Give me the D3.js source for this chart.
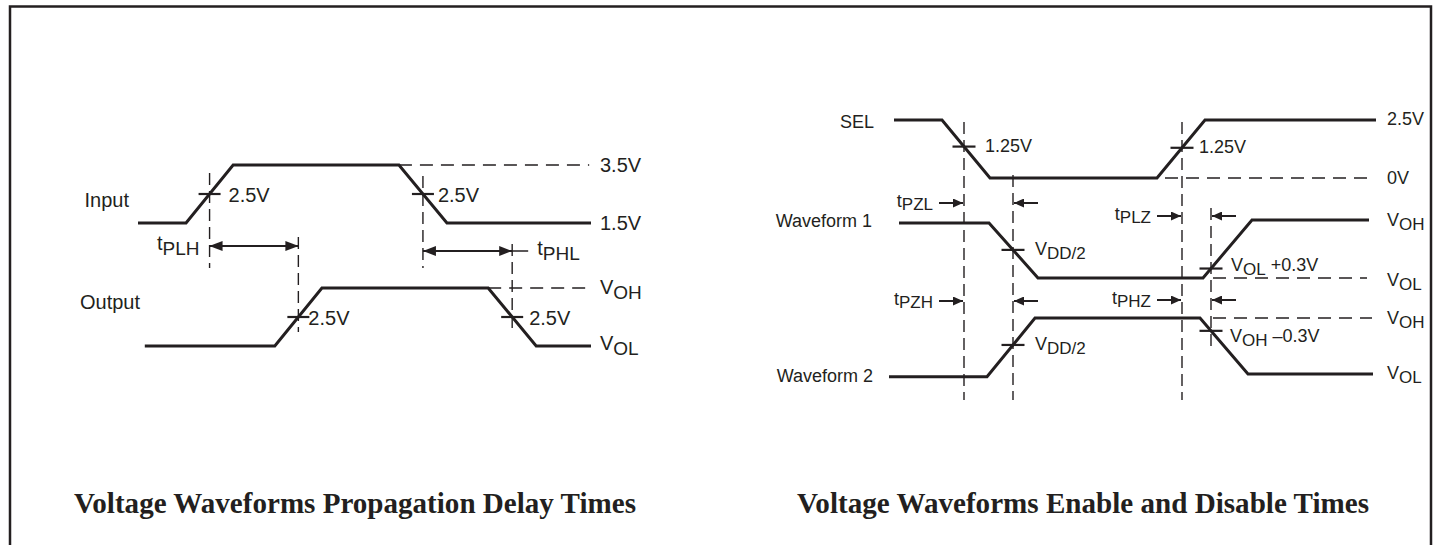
<!DOCTYPE html>
<html>
<head>
<meta charset="utf-8">
<script src="https://cdn.jsdelivr.net/npm/d3@7"></script>
<style>
  body { margin: 0; background: #fff; }
  svg text { font-family: "Liberation Sans", Arial, Helvetica, sans-serif; fill: #231f20; white-space: pre; }
  svg text.title { font-family: "Liberation Serif", "Times New Roman", serif; font-weight: bold; }
</style>
</head>
<body>
<div id="diagram"></div>
<script>
// waveform data as [time, level]; time is in arbitrary units (0..100) per panel
const inputWave  = [[0, 1.5], [10.6, 1.5], [21, 3.5], [57.6, 3.5], [68.2, 1.5], [100, 1.5]];
const outputWave = [[1.5, 0], [30.2, 0], [40.6, 1], [77.3, 1], [87.9, 0], [100, 0]];
const selWave    = [[2.8, 2.5], [12.4, 2.5], [22, 0], [55.4, 0], [65, 2.5], [99.2, 2.5]];
const wave1      = [[3.8, 0.95], [21.8, 0.95], [31.6, 0], [64.6, 0], [74.4, 1], [97.8, 1]];
const wave2      = [[1.8, -0.05], [21.4, -0.05], [31, 1], [64, 1], [73.6, 0], [98.6, 0]];

// measurement instants (input rise, input fall, output rise, output fall)
const delayTimes  = [15.8, 62.9, 35.4, 82.6];
const enableTimes = [16.8, 26.6, 60.4, 66.2];

// labels
const delayRows     = ["Input", "Output"];
const enableRows    = ["SEL", "Waveform 1", "Waveform 2"];
const delayLevels   = [["3.5V", 3.5], ["1.5V", 1.5], ["V_OH", 1], ["V_OL", 0]];
const enableLevels  = [["2.5V", 2.5], ["0V", 0], ["V_OH", 1], ["V_OL", 0], ["V_OH", 1], ["V_OL", 0]];
const delayCross    = ["2.5V", "2.5V", "2.5V", "2.5V"];
const enableCross   = ["1.25V", "1.25V", "V_DD/2", "V_OL +0.3V", "V_DD/2", "V_OH \u20130.3V"];
const delaySpans    = [["t_PLH", 15.8, 35.4], ["t_PHL", 62.9, 82.6]];
const enableSpans   = [["t_PZL", 16.8, 26.6], ["t_PLZ", 60.4, 66.2], ["t_PZH", 16.8, 26.6], ["t_PHZ", 60.4, 66.2]];
const titles        = ["Voltage Waveforms Propagation Delay Times", "Voltage Waveforms Enable and Disable Times"];

const ink = "#231f20";
const W = 1437, H = 545;

const svg = d3.select("#diagram")
  .append("svg")
    .attr("width", W)
    .attr("height", H);

// frame (open at the bottom)
svg.append("path")
  .attr("d", "M10," + H + "V6.5H1431V" + H)
  .attr("fill", "none")
  .attr("stroke", ink)
  .attr("stroke-width", 2.5);

// arrow heads
const defs = svg.append("defs");
function addMarker(id, len, half) {
  defs.append("marker")
    .attr("id", id)
    .attr("markerUnits", "userSpaceOnUse")
    .attr("markerWidth", len)
    .attr("markerHeight", half * 2)
    .attr("refX", len)
    .attr("refY", half)
    .attr("orient", "auto-start-reverse")
    .append("path")
      .attr("d", "M0,0L" + len + "," + half + "L0," + (half * 2) + "Z")
      .attr("fill", ink);
}
addMarker("headBig", 13, 5);
addMarker("headSmall", 10, 4.5);

// x scales
const xL = d3.scaleLinear().domain([0, 100]).range([138, 591]);
const xR = d3.scaleLinear().domain([0, 100]).range([880, 1380]);

// y scales, one per signal row
const yInput  = d3.scaleLinear().domain([1.5, 3.5]).range([223, 165]);
const yOutput = d3.scaleLinear().domain([0, 1]).range([346, 288]);
const ySel    = d3.scaleLinear().domain([0, 2.5]).range([178, 120]);
const yW1     = d3.scaleLinear().domain([0, 1]).range([278, 220]);
const yW2     = d3.scaleLinear().domain([0, 1]).range([374, 318]);

// level of a waveform at time t
function levelAt(wave, t) {
  for (let i = 1; i < wave.length; i++) {
    if (t <= wave[i][0]) {
      const a = wave[i - 1], b = wave[i];
      return a[1] + (b[1] - a[1]) * (t - a[0]) / (b[0] - a[0]);
    }
  }
  return wave[wave.length - 1][1];
}

// text with "_" subscripts
function label(x, y, str, size, anchor, subDrop) {
  const parts = str.split(/_(\S+)/);
  const t = svg.append("text")
    .attr("x", x)
    .attr("y", y + size * 0.36)
    .attr("font-size", size)
    .attr("text-anchor", anchor || "start");
  let cur = 0;
  parts.forEach(function (p, i) {
    if (!p) return;
    const sub = i % 2 === 1;
    const off = sub ? subDrop : 0;
    t.append("tspan")
      .attr("dy", off - cur)
      .attr("font-size", sub ? size - 1 : size)
      .text(p);
    cur = off;
  });
  return t;
}

function drawWave(wave, x, y) {
  svg.append("path")
    .datum(wave)
    .attr("fill", "none")
    .attr("stroke", ink)
    .attr("stroke-width", 3)
    .attr("stroke-linejoin", "miter")
    .attr("d", d3.line().x(d => x(d[0])).y(d => y(d[1])));
}

function hDash(x0, x1, y) {
  svg.append("line")
    .attr("x1", x0).attr("x2", x1).attr("y1", y).attr("y2", y)
    .attr("stroke", ink).attr("stroke-width", 1.4)
    .attr("stroke-dasharray", "13,8");
}

function vDash(x, y0, y1) {
  svg.append("line")
    .attr("x1", x).attr("x2", x).attr("y1", y0).attr("y2", y1)
    .attr("stroke", ink).attr("stroke-width", 1.4)
    .attr("stroke-dasharray", "12,6");
}

function crossTick(x, y, half) {
  svg.append("line")
    .attr("x1", x - half).attr("x2", x + half).attr("y1", y).attr("y2", y)
    .attr("stroke", ink).attr("stroke-width", 2.2);
}

// ---------- left panel: propagation delay ----------
const fsL = 20;

drawWave(inputWave, xL, yInput);
drawWave(outputWave, xL, yOutput);

hDash(xL(57.6), xL(99.6), yInput(3.5));
hDash(xL(77.3), xL(99.6), yOutput(1));

const delayRowY = [yInput(3.5) + 35, yOutput(1) + 14];
const delayRowX = [129, 140];
delayRows.forEach(function (r, i) { label(delayRowX[i], delayRowY[i], r, fsL, "end", 5); });

const delayLevelScale = [yInput, yInput, yOutput, yOutput];
const delayLevelDy = [0, 0, -1.5, -3];
delayLevels.forEach(function (d, i) {
  label(600, delayLevelScale[i](d[1]) + delayLevelDy[i], d[0], fsL, "start", 5);
});

// guides: [top, bottom] of each dashed drop line
const delayGuide = [[173, 268], [176, 268], [237, 332], [244, 332]];
const delayWave = [inputWave, inputWave, outputWave, outputWave];
const delayY = [yInput, yInput, yOutput, yOutput];
const delayLabelDx = [19, 15, 10, 17];
delayTimes.forEach(function (t, i) {
  const x = xL(t);
  vDash(x, delayGuide[i][0], delayGuide[i][1]);
  const y = delayY[i](levelAt(delayWave[i], t));
  crossTick(x, y, 11);
  label(x + delayLabelDx[i], y + 1, delayCross[i], fsL, "start", 5);
});

// double headed delay arrows
const delaySpanY = [246, 251];
delaySpans.forEach(function (s, i) {
  const y = delaySpanY[i];
  svg.append("line")
    .attr("x1", xL(s[1])).attr("x2", xL(s[2])).attr("y1", y).attr("y2", y)
    .attr("stroke", ink).attr("stroke-width", 2)
    .attr("marker-start", "url(#headBig)")
    .attr("marker-end", "url(#headBig)");
  if (i === 0) {
    label(xL(s[1]) - 10, y - 3, s[0], fsL, "end", 5);
  } else {
    svg.append("line")
      .attr("x1", xL(s[2])).attr("x2", xL(s[2]) + 16).attr("y1", y).attr("y2", y)
      .attr("stroke", ink).attr("stroke-width", 1.5);
    label(xL(s[2]) + 25, y - 3, s[0], fsL, "start", 5);
  }
});

// ---------- right panel: enable / disable ----------
const fsR = 18;

drawWave(selWave, xR, ySel);
drawWave(wave1, xR, yW1);
drawWave(wave2, xR, yW2);

hDash(xR(57), xR(97.4), ySel(0));
hDash(xR(66.6), xR(97.4), yW1(0));
hDash(xR(66.6), xR(98.4), yW2(1));

const enableRowY = [122, 221, 376];
const enableRowX = [874, 872, 873];
enableRows.forEach(function (r, i) { label(enableRowX[i], enableRowY[i], r, fsR, "end", 4); });

const enableLevelScale = [ySel, ySel, yW1, yW1, yW2, yW2];
const enableLevelDy = [-1, 0, 0, 2, 0, -1];
enableLevels.forEach(function (d, i) {
  label(1387, enableLevelScale[i](d[1]) + enableLevelDy[i], d[0], fsR, "start", 4);
});

const enableGuide = [[122, 400], [175, 400], [122, 400], [208, 350]];
enableTimes.forEach(function (t, i) {
  vDash(xR(t), enableGuide[i][0], enableGuide[i][1]);
});

// crossing ticks: which wave and which instant
const enableCrossWave = [selWave, selWave, wave1, wave1, wave2, wave2];
const enableCrossY    = [ySel, ySel, yW1, yW1, yW2, yW2];
const enableCrossT    = [enableTimes[0], enableTimes[2], enableTimes[1], enableTimes[3], enableTimes[1], enableTimes[3]];
const enableCrossDy   = [-1, -1, -1, -4, -1, 5];
const enableCrossDx   = [21, 17, 22, 20, 22, 19];
enableCross.forEach(function (txt, i) {
  const t = enableCrossT[i];
  const x = xR(t);
  const y = enableCrossY[i](levelAt(enableCrossWave[i], t));
  crossTick(x, y, 11.5);
  label(x + enableCrossDx[i], y + enableCrossDy[i], txt, fsR, "start", 4);
});

// inward pointing arrows
const enableSpanY = [203, 216, 301, 300];
enableSpans.forEach(function (s, i) {
  const y = enableSpanY[i];
  const xa = xR(s[1]), xb = xR(s[2]);
  svg.append("line")
    .attr("x1", xa - 25).attr("x2", xa - 1).attr("y1", y).attr("y2", y)
    .attr("stroke", ink).attr("stroke-width", 2)
    .attr("marker-end", "url(#headSmall)");
  svg.append("line")
    .attr("x1", xb + 25).attr("x2", xb + 1).attr("y1", y).attr("y2", y)
    .attr("stroke", ink).attr("stroke-width", 2)
    .attr("marker-end", "url(#headSmall)");
  label(xa - 31, y - 2, s[0], fsR, "end", 3);
});

// ---------- titles ----------
const titleX = [355, 1083];
const titleW = [562, 572];
titles.forEach(function (t, i) {
  svg.append("text")
    .attr("class", "title")
    .attr("x", titleX[i])
    .attr("y", 513)
    .attr("text-anchor", "middle")
    .attr("font-size", 29)
    .attr("textLength", titleW[i])
    .attr("lengthAdjust", "spacingAndGlyphs")
    .text(t);
});
</script>
</body>
</html>
